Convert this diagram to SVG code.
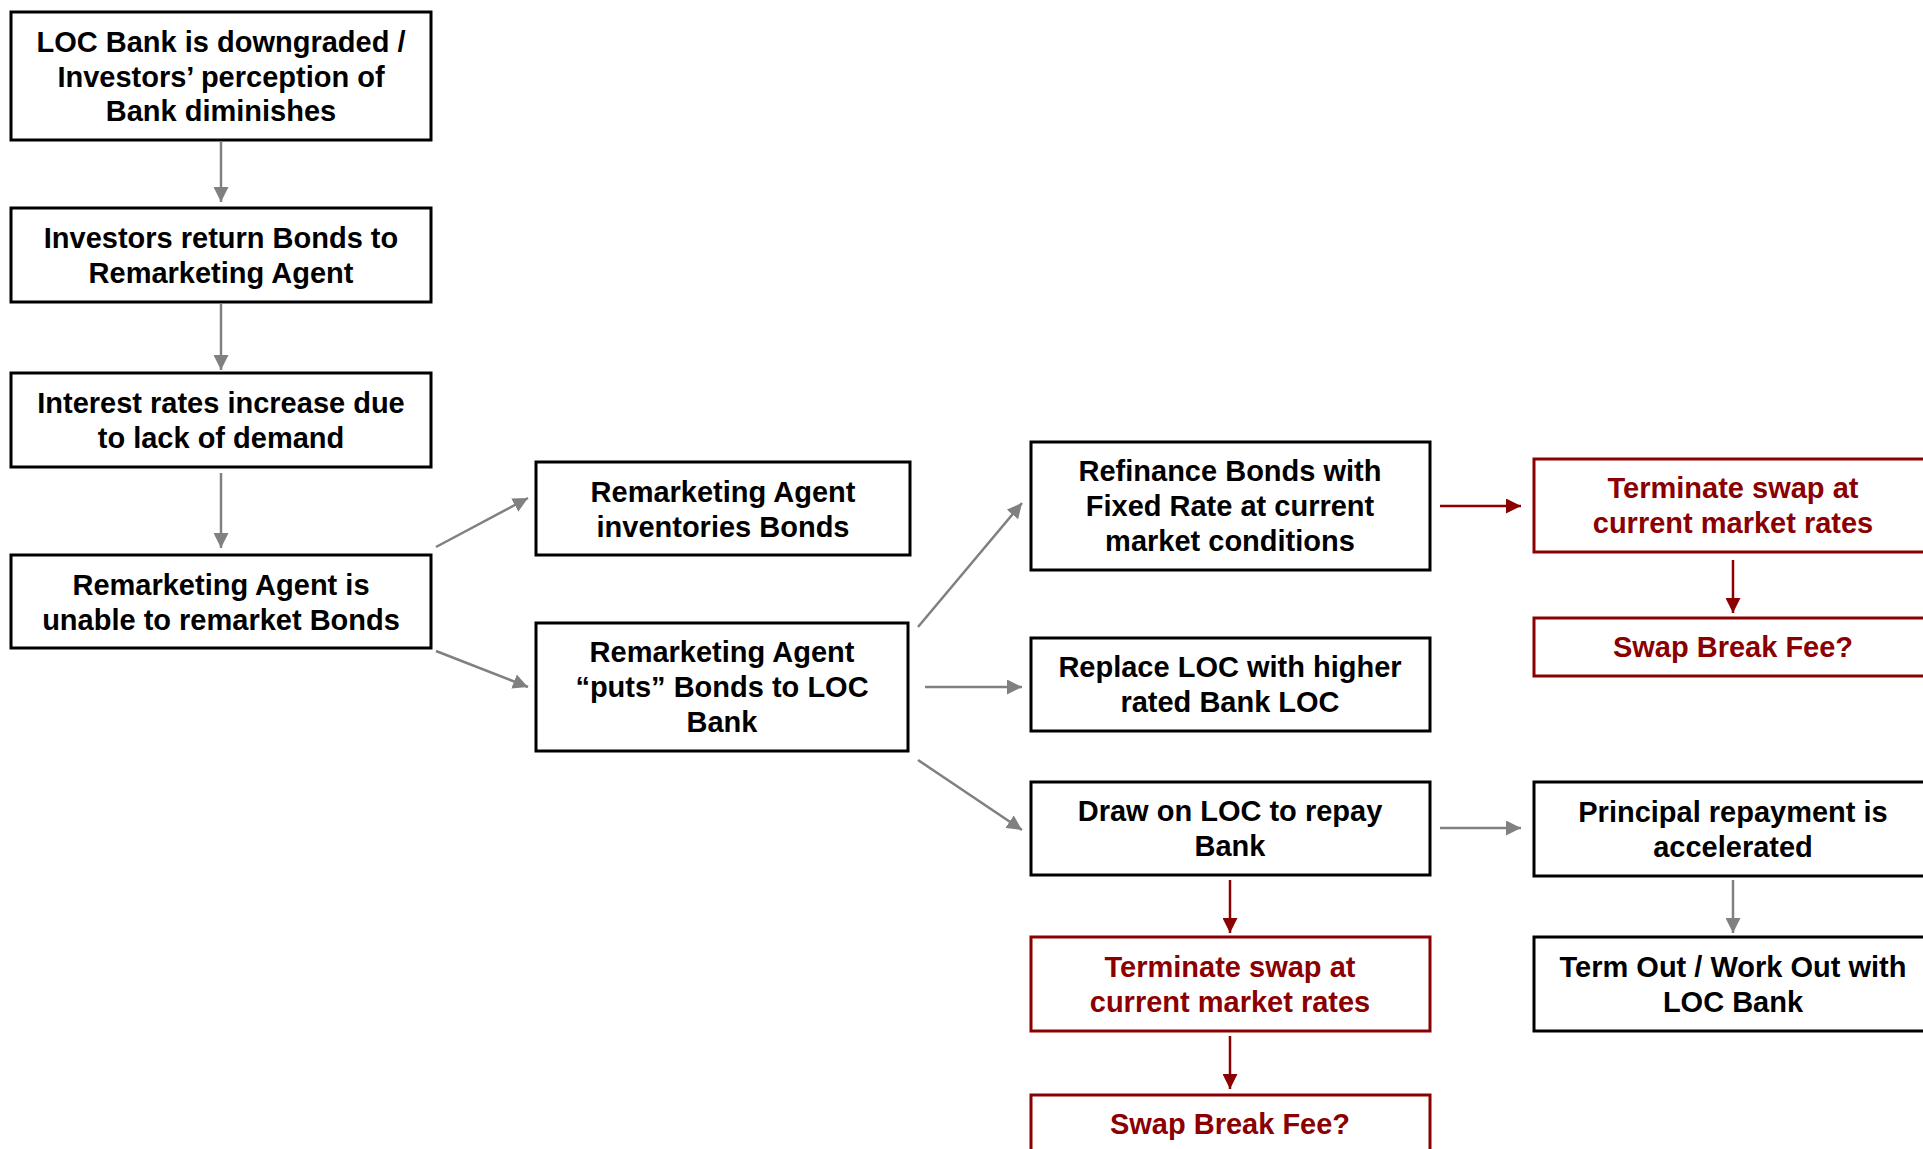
<svg xmlns="http://www.w3.org/2000/svg" width="1923" height="1149" viewBox="0 0 1923 1149">
<style>
.box{fill:#fff;stroke:#000;stroke-width:3}
.rbox{fill:#fff;stroke:#8B0000;stroke-width:3}
.t{font-family:"Liberation Sans",Arial,sans-serif;font-weight:bold;font-size:29px;fill:#000;text-anchor:middle}
.rt{font-family:"Liberation Sans",Arial,sans-serif;font-weight:bold;font-size:29px;fill:#8B0000;text-anchor:middle}
.g{stroke:#808080;stroke-width:2.5;fill:none;marker-end:url(#ag)}
.r{stroke:#8B0000;stroke-width:2.5;fill:none;marker-end:url(#ar)}
</style>
<defs>
<marker id="ag" markerUnits="userSpaceOnUse" markerWidth="15" markerHeight="15" refX="15" refY="7.5" orient="auto"><path d="M0,0 L15,7.5 L0,15 z" fill="#808080"/></marker>
<marker id="ar" markerUnits="userSpaceOnUse" markerWidth="15" markerHeight="15" refX="15" refY="7.5" orient="auto"><path d="M0,0 L15,7.5 L0,15 z" fill="#8B0000"/></marker>
</defs>
<rect width="1923" height="1149" fill="#fff"/>
<g id="connectors">
<line class="g" x1="221" y1="142" x2="221" y2="202"/>
<line class="g" x1="221" y1="304" x2="221" y2="370"/>
<line class="g" x1="221" y1="473" x2="221" y2="548"/>
<line class="g" x1="436" y1="547" x2="528" y2="498"/>
<line class="g" x1="436" y1="651" x2="528" y2="687"/>
<line class="g" x1="918" y1="627" x2="1022" y2="503"/>
<line class="g" x1="925" y1="687" x2="1022" y2="687"/>
<line class="g" x1="918" y1="760" x2="1022" y2="830"/>
<line class="r" x1="1440" y1="506" x2="1521" y2="506"/>
<line class="r" x1="1733" y1="560" x2="1733" y2="613"/>
<line class="g" x1="1440" y1="828" x2="1521" y2="828"/>
<line class="g" x1="1733" y1="880" x2="1733" y2="933"/>
<line class="r" x1="1230" y1="880" x2="1230" y2="933"/>
<line class="r" x1="1230" y1="1036" x2="1230" y2="1089"/>
</g>
<g id="n1"><rect class="box" x="11" y="12" width="420" height="128"/>
<text class="t" x="221" y="52">LOC Bank is downgraded /</text>
<text class="t" x="221" y="87">Investors’ perception of</text>
<text class="t" x="221" y="121">Bank diminishes</text></g>
<g id="n2"><rect class="box" x="11" y="208" width="420" height="94"/>
<text class="t" x="221" y="248">Investors return Bonds to</text>
<text class="t" x="221" y="283">Remarketing Agent</text></g>
<g id="n3"><rect class="box" x="11" y="373" width="420" height="94"/>
<text class="t" x="221" y="413">Interest rates increase due</text>
<text class="t" x="221" y="448">to lack of demand</text></g>
<g id="n4"><rect class="box" x="11" y="555" width="420" height="93"/>
<text class="t" x="221" y="595">Remarketing Agent is</text>
<text class="t" x="221" y="630">unable to remarket Bonds</text></g>
<g id="n5"><rect class="box" x="536" y="462" width="374" height="93"/>
<text class="t" x="723" y="502">Remarketing Agent</text>
<text class="t" x="723" y="537">inventories Bonds</text></g>
<g id="n6"><rect class="box" x="536" y="623" width="372" height="128"/>
<text class="t" x="722" y="662">Remarketing Agent</text>
<text class="t" x="722" y="697">“puts” Bonds to LOC</text>
<text class="t" x="722" y="732">Bank</text></g>
<g id="n7"><rect class="box" x="1031" y="442" width="399" height="128"/>
<text class="t" x="1230" y="481">Refinance Bonds with</text>
<text class="t" x="1230" y="516">Fixed Rate at current</text>
<text class="t" x="1230" y="551">market conditions</text></g>
<g id="n8"><rect class="box" x="1031" y="638" width="399" height="93"/>
<text class="t" x="1230" y="677">Replace LOC with higher</text>
<text class="t" x="1230" y="712">rated Bank LOC</text></g>
<g id="n9"><rect class="box" x="1031" y="782" width="399" height="93"/>
<text class="t" x="1230" y="821">Draw on LOC to repay</text>
<text class="t" x="1230" y="856">Bank</text></g>
<g id="n10"><rect class="rbox" x="1534" y="459" width="402" height="93"/>
<text class="rt" x="1733" y="498">Terminate swap at</text>
<text class="rt" x="1733" y="533">current market rates</text></g>
<g id="n11"><rect class="rbox" x="1534" y="618" width="402" height="58"/>
<text class="rt" x="1733" y="657">Swap Break Fee?</text></g>
<g id="n12"><rect class="box" x="1534" y="782" width="402" height="94"/>
<text class="t" x="1733" y="822">Principal repayment is</text>
<text class="t" x="1733" y="857">accelerated</text></g>
<g id="n13"><rect class="box" x="1534" y="937" width="402" height="94"/>
<text class="t" x="1733" y="977">Term Out / Work Out with</text>
<text class="t" x="1733" y="1012">LOC Bank</text></g>
<g id="n14"><rect class="rbox" x="1031" y="937" width="399" height="94"/>
<text class="rt" x="1230" y="977">Terminate swap at</text>
<text class="rt" x="1230" y="1012">current market rates</text></g>
<g id="n15"><rect class="rbox" x="1031" y="1095" width="399" height="58"/>
<text class="rt" x="1230" y="1134">Swap Break Fee?</text></g>
</svg>
